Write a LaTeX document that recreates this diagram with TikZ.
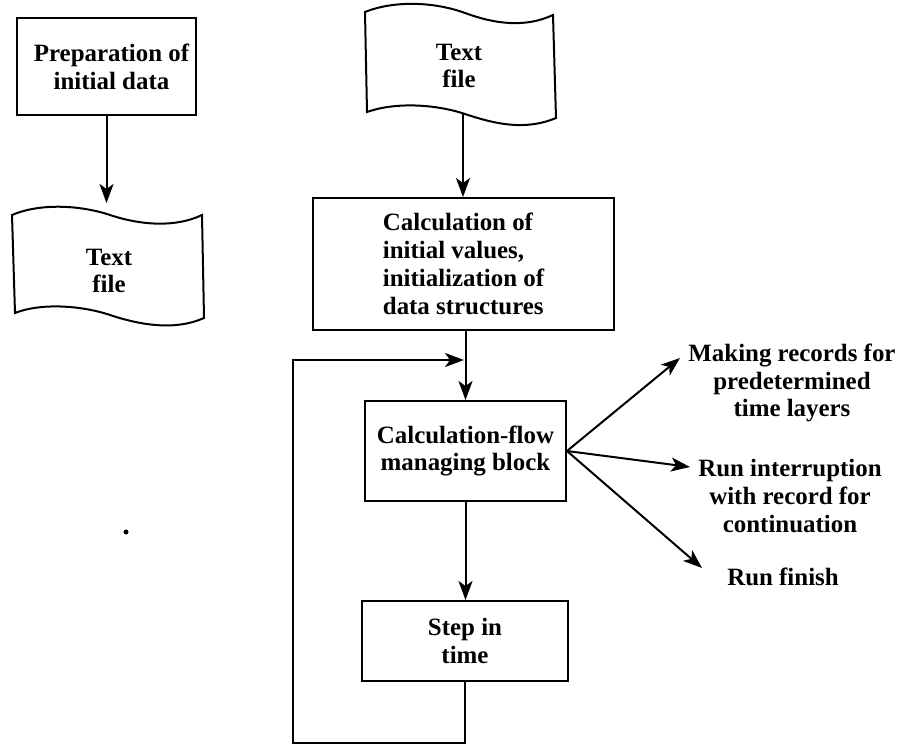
\documentclass[tikz,border=0pt]{standalone}
\usepackage{fontspec}
\setmainfont{Liberation Serif}
\usetikzlibrary{arrows.meta,calc}
\begin{document}
\begin{tikzpicture}[x=1bp,y=-1bp,
  line width=2bp,
  arr/.style={-{Stealth[length=19bp,width=14bp,inset=5bp]}},
  txt/.style={font=\bfseries\fontsize{25}{28}\selectfont},
  box/.style={draw, rectangle, inner sep=0pt, txt, align=center},
  lbl/.style={inner sep=0pt, txt, align=center}]
\useasboundingbox (0,0) rectangle (905,746);

% left column
\node[box, minimum width=179bp, minimum height=97bp] (prep) at (106.5,66.5)
  {\hspace*{10bp}Preparation of\\\hspace*{10bp}initial data};
\draw (12,215) .. controls (40,203) and (80,205) .. (110,215)
  .. controls (140,225) and (175,228) .. (202,215)
  -- (204,318) .. controls (175,331) and (140,325) .. (110,315)
  .. controls (80,305) and (40,303) .. (15,313) -- cycle;
\node[lbl] (tf1) at (109,271) {Text\\file};
\coordinate (tf1top) at (106.5,203);
\draw[arr] (prep.south) -- (tf1top);

% stray dot of the original
\fill (126,532) circle (2.5bp);

% right column
\draw (365,12) .. controls (395,0) and (435,2) .. (465,13)
  .. controls (495,24) and (525,28) .. (553,15)
  -- (556,118) .. controls (525,131) and (495,124) .. (465,114)
  .. controls (435,104) and (395,102) .. (367,112) -- cycle;
\node[lbl] (tf2) at (459,66) {Text\\file};
\coordinate (tf2bot) at (463,114);

\node[box, align=left, minimum width=301bp, minimum height=132bp] (calc) at (463.5,264)
  {Calculation of\\initial values,\\initialization of\\data structures};
\node[box, minimum width=201bp, minimum height=100bp] (manage) at (465.5,451) {Calculation-flow\\managing block};
\node[box, minimum width=206bp, minimum height=80bp] (step) at (465,641) {Step in\\time};

\draw[arr] (tf2bot) -- (tf2bot |- calc.north);
\draw[arr] (calc.south -| manage.north) -- (manage.north);
\draw[arr] (manage.south) -- (manage.south |- step.north);

\coordinate (loopbl) at (293,743);
\coordinate (join) at (464,360);
\draw[arr] (step.south) |- (loopbl) |- (join);

% outputs
\node[lbl] (out1) at (792,383) {Making records for\\predetermined\\time layers};
\node[lbl] (out2) at (790,496) {Run interruption\\with record for\\continuation};
\node[lbl] (out3) at (783,577) {Run finish};
\coordinate (t1) at (680,358);
\coordinate (t2) at (690,467);
\coordinate (t3) at (702,568);
\draw[arr] (manage.east) -- (t1);
\draw[arr] (manage.east) -- (t2);
\draw[arr] (manage.east) -- (t3);
\end{tikzpicture}
\end{document}
